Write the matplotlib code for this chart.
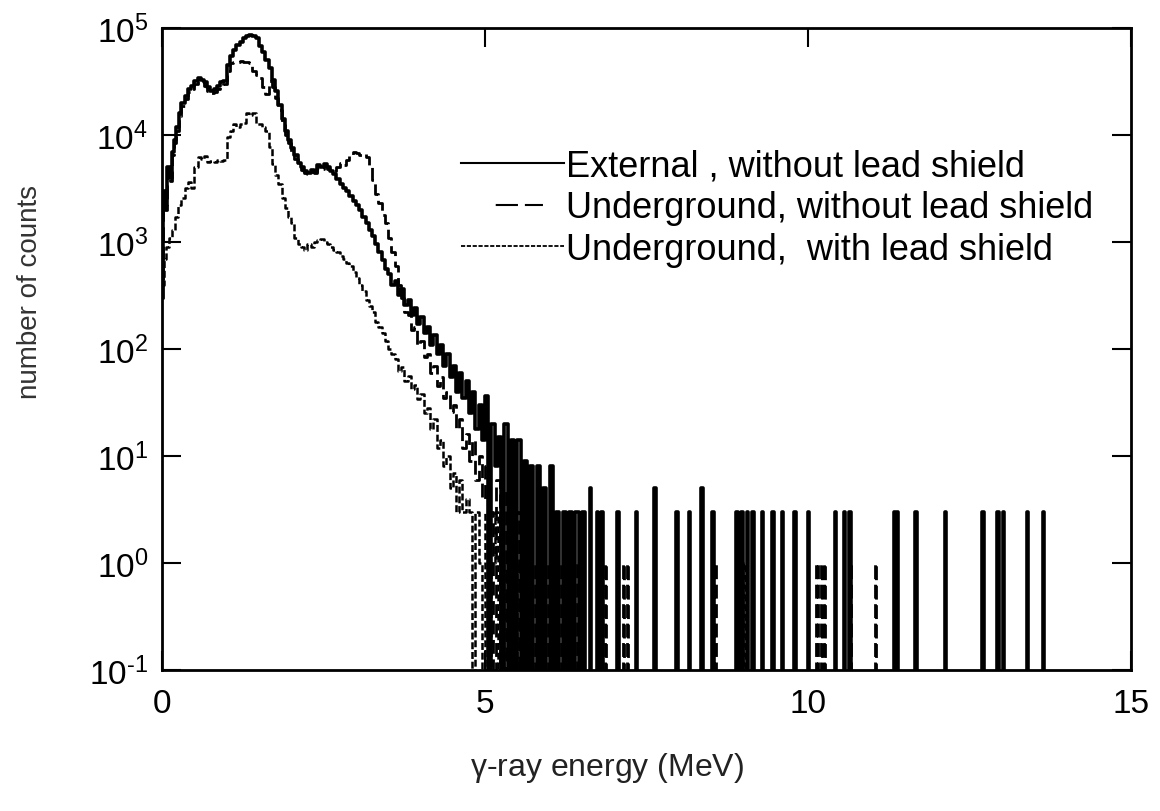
import numpy as np
import matplotlib
matplotlib.use("Agg")
import matplotlib.pyplot as plt
from matplotlib.ticker import FuncFormatter

plt.rcParams['font.family'] = ['Liberation Sans', 'DejaVu Sans']
plt.rcParams['mathtext.fontset'] = 'custom'
plt.rcParams['mathtext.rm'] = 'Liberation Sans'
plt.rcParams['mathtext.it'] = 'Liberation Sans'
plt.rcParams['axes.unicode_minus'] = False
plt.rcParams['lines.scale_dashes'] = False
plt.rcParams['path.simplify'] = False

# ---- data (energy in MeV, counts per bin) ----
ext_E = [0.00, 0.02, 0.05, 0.08, 0.12, 0.15, 0.18, 0.22, 0.26, 0.30, 0.35, 0.40, 0.45, 0.50,
         0.55, 0.60, 0.65, 0.70, 0.75, 0.80, 0.85, 0.90, 0.95, 1.00, 1.05, 1.10, 1.15, 1.20,
         1.25, 1.30, 1.35, 1.40, 1.45, 1.50, 1.55, 1.60, 1.65, 1.70, 1.75, 1.80, 1.85, 1.90,
         1.95, 2.00, 2.05, 2.10, 2.15, 2.20, 2.25, 2.30, 2.35, 2.40, 2.45, 2.50, 2.55, 2.60,
         2.65, 2.70, 2.75, 2.80, 2.85, 2.90, 2.95, 3.00, 3.05, 3.10, 3.15, 3.20, 3.25, 3.30,
         3.35, 3.40, 3.45, 3.50, 3.55, 3.60, 3.65, 3.70, 3.75, 3.80, 3.85, 3.90, 3.95, 4.00,
         4.05, 4.10, 4.15, 4.20, 4.25, 4.30, 4.35, 4.40, 4.45, 4.50, 4.55, 4.60, 4.65, 4.70,
         4.75, 4.80, 4.85, 4.90, 4.95, 5.00, 5.05, 5.10, 5.15, 5.20, 5.25, 5.30, 5.35, 5.40,
         5.45, 5.50, 5.55, 5.60, 5.65, 5.70, 5.75, 5.80, 5.85, 5.90, 5.95, 6.00, 6.05, 6.10,
         6.15, 6.20, 6.25, 6.30, 6.35, 6.40, 6.45, 6.50, 6.55]
ext_N = [400, 3000, 2200, 5000, 4000, 7000, 9000, 12000, 16000, 20000, 23000, 27000, 29000, 32000,
         34000, 33000, 31000, 28000, 26000, 27000, 29000, 31000, 32000, 45000, 55000, 62000, 70000, 74000,
         80000, 85000, 86000, 85000, 80000, 68000, 60000, 50000, 42000, 33000, 26000, 19000, 14000, 11000,
         9000, 7500, 6500, 5500, 5000, 4600, 4400, 4700, 4500, 5200, 5000, 5400, 5000, 4600,
         4300, 3900, 3500, 3200, 3000, 2700, 2400, 2200, 2000, 1700, 1500, 1300, 1150, 950,
         800, 680, 560, 500, 400, 430, 320, 360, 260, 290, 210, 240, 170, 200,
         140, 160, 110, 135, 90, 110, 70, 90, 55, 70, 40, 60, 35, 50,
         25, 40, 18, 30, 14, 36, 0, 20, 8, 15, 0, 20, 0, 14,
         0, 14, 0, 9, 0, 8, 0, 8, 0, 5, 0, 8, 0, 3,
         0, 3, 0, 3, 0, 3, 0, 3, 0]
ext_tail_E = [6.62, 6.73, 6.80, 7.05, 7.33, 7.62, 7.96, 8.15, 8.35, 8.52, 8.89, 8.97, 9.05,
              9.14, 9.28, 9.45, 9.60, 9.79, 10.00, 10.42, 10.56, 10.64, 11.33, 11.38, 11.66,
              12.12, 12.70, 12.93, 13.02, 13.39, 13.64]
ext_tail_N = [5, 3, 3, 3, 3, 5, 3, 3, 5, 3, 3, 3, 3,
              3, 3, 3, 3, 3, 3, 3, 3, 3, 3, 3, 3,
              3, 3, 3, 3, 3, 3]

ug_E = [0.00, 0.02, 0.05, 0.08, 0.12, 0.15, 0.18, 0.22, 0.26, 0.30, 0.35, 0.40, 0.45, 0.50,
        0.55, 0.60, 0.65, 0.70, 0.75, 0.80, 0.85, 0.90, 0.95, 1.00, 1.05, 1.10, 1.15, 1.20,
        1.25, 1.30, 1.35, 1.40, 1.45, 1.50, 1.55, 1.60, 1.65, 1.70, 1.75, 1.80, 1.85, 1.90,
        1.95, 2.00, 2.05, 2.10, 2.15, 2.20, 2.25, 2.30, 2.35, 2.40, 2.45, 2.50, 2.55, 2.60,
        2.65, 2.70, 2.75, 2.80, 2.85, 2.90, 2.95, 3.00, 3.05, 3.10, 3.15, 3.20, 3.25, 3.30,
        3.35, 3.40, 3.45, 3.50, 3.55, 3.60, 3.65, 3.70, 3.75, 3.80, 3.85, 3.90, 3.95, 4.00,
        4.05, 4.10, 4.15, 4.20, 4.25, 4.30, 4.35, 4.40, 4.45, 4.50, 4.55, 4.60, 4.65, 4.70,
        4.75, 4.80, 4.85, 4.90, 4.95, 5.00, 5.075, 5.125, 5.175, 5.225, 5.275, 5.325, 5.375, 5.425,
        5.475, 5.525, 5.575, 5.625, 5.675, 5.725, 5.775, 5.825, 5.875, 5.925, 5.975, 6.025, 6.075, 6.125,
        6.175, 6.225, 6.275, 6.325, 6.375, 6.425]
ug_N = [300, 2800, 2000, 4600, 3700, 6500, 8400, 11000, 15000, 18500, 21500, 25000, 27000, 30000,
        32000, 31000, 29000, 26000, 24500, 25000, 27000, 29000, 30000, 40000, 47000, 48000, 48000, 49000,
        48000, 48000, 47000, 40000, 36000, 34000, 28000, 24000, 32000, 28000, 22000, 17000, 13000, 10000,
        8500, 7000, 6000, 5200, 4700, 4400, 4300, 4500, 4400, 4900, 4800, 5100, 4800, 4600,
        4600, 5000, 5500, 5200, 5800, 6500, 7000, 6800, 6500, 6600, 6200, 5000, 3800, 2800,
        2300, 1800, 1500, 1100, 800, 600, 400, 300, 220, 210, 150, 160, 110, 120,
        85, 90, 60, 70, 45, 55, 35, 40, 26, 30, 18, 22, 12, 16,
        9, 14, 6, 10, 4, 8, 3, 0, 6, 0, 5, 0, 4, 0,
        3, 0, 3, 0, 3, 0, 1, 0, 3, 0, 1, 0, 3, 0,
        1, 0, 1, 0, 1, 0]
ug_tail_E = [6.85, 7.13, 7.20, 8.55, 10.13, 10.20, 10.25, 10.64, 11.04]
ug_tail_N = [1, 1, 1, 1, 1, 1, 1, 1, 1]

pb_E = [0.00, 0.03, 0.06, 0.10, 0.15, 0.20, 0.25, 0.30, 0.35, 0.40, 0.45, 0.50, 0.55, 0.60,
        0.65, 0.70, 0.75, 0.80, 0.85, 0.90, 0.95, 1.00, 1.05, 1.10, 1.15, 1.20, 1.25, 1.30,
        1.35, 1.40, 1.45, 1.50, 1.55, 1.60, 1.65, 1.70, 1.75, 1.80, 1.85, 1.90, 1.95, 2.00,
        2.05, 2.10, 2.15, 2.20, 2.25, 2.30, 2.35, 2.40, 2.45, 2.50, 2.55, 2.60, 2.65, 2.70,
        2.75, 2.80, 2.85, 2.90, 2.95, 3.00, 3.05, 3.10, 3.15, 3.20, 3.25, 3.30, 3.35, 3.40,
        3.45, 3.50, 3.55, 3.60, 3.65, 3.70, 3.75, 3.80, 3.85, 3.90, 3.95, 4.00, 4.05, 4.10,
        4.15, 4.20, 4.25, 4.30, 4.35, 4.40, 4.45, 4.50, 4.55, 4.60, 4.65, 4.70, 4.75, 4.80,
        4.85, 4.90, 4.95, 5.00, 5.05, 5.10, 5.15, 5.20, 5.25, 5.30, 5.35, 5.40, 5.45, 5.50,
        5.55, 5.60]
pb_N = [400, 700, 900, 1100, 1300, 1700, 2200, 2600, 3200, 3600, 3200, 5000, 6200, 6000,
        6300, 5600, 5700, 5600, 5800, 5700, 5800, 9600, 11000, 12600, 12000, 12800, 13000, 16000,
        15500, 16000, 12600, 12600, 12000, 11000, 7800, 5400, 4200, 3500, 2600, 2100, 1700, 1500,
        1100, 950, 900, 850, 950, 900, 1000, 1050, 1070, 1000, 950, 900, 850, 800,
        740, 690, 640, 600, 520, 460, 400, 350, 290, 250, 220, 180, 160, 140,
        120, 100, 90, 80, 62, 68, 50, 56, 42, 46, 34, 38, 25, 28,
        18, 22, 12, 14, 8, 10, 5, 7, 3, 6, 3, 4, 3, 0,
        3, 1, 0, 3, 0, 1, 3, 0, 1, 0, 3, 0, 1, 0,
        1, 0]
pb_tail_E = [6.30, 8.95, 9.00]
pb_tail_N = [1, 1, 1]


def spectrum(E, N, tail_E, tail_N, width=0.02):
    x = list(E) + [E[-1] + 0.05]
    y = list(N) + [0]
    for e, c in zip(tail_E, tail_N):
        x += [e, e + width]
        y += [c, 0]
    x.append(15.0)
    y.append(0)
    return np.array(x), np.array(y, dtype=float)


def decade_label(v, pos):
    p = str(int(round(np.log10(v)))).replace('-', '\u2010')
    return r'$\mathdefault{10^{' + p + '}}$'


fig = plt.figure(figsize=(11.6, 8.12), dpi=100)
ax = fig.add_axes([0.1397, 0.1736, 0.8353, 0.7907])
ax.set_yscale('log', nonpositive='clip')

x1, y1 = spectrum(ext_E, ext_N, ext_tail_E, ext_tail_N)
x2, y2 = spectrum(ug_E, ug_N, ug_tail_E, ug_tail_N)
x3, y3 = spectrum(pb_E, pb_N, pb_tail_E, pb_tail_N)

ax.step(x1, y1, where='post', color='black', lw=2.6, ls='-',
        label='External , without lead shield')
ax.step(x2, y2, where='post', color='black', lw=2.0, ls=(0, (10, 4)),
        label='Underground, without lead shield')
ax.step(x3, y3, where='post', color='black', lw=1.8, ls=(0, (5, 2)),
        label='Underground,  with lead shield')

ax.set_xlim(0, 15)
ax.set_ylim(0.1, 1e5)
ax.set_xticks([0, 5, 10, 15])
ax.set_yticks([1e-1, 1, 10, 100, 1e3, 1e4, 1e5])
ax.yaxis.set_major_formatter(FuncFormatter(decade_label))
ax.minorticks_off()
ax.tick_params(axis='both', which='major', direction='in', length=14, width=1.5,
               top=True, right=True, labelsize=24, pad=10)
ax.tick_params(axis='x', pad=13)
for s in ax.spines.values():
    s.set_linewidth(2)

ax.set_xlabel(r'$\gamma$-ray energy (MeV)', fontsize=23, color='#222222')
ax.xaxis.set_label_coords(0.459, -0.125)
ax.set_ylabel('number of counts', fontsize=20, color='#333333', va='center')
ax.yaxis.set_label_coords(-0.136, 0.59)

leg = ax.legend(loc='upper left', bbox_to_anchor=(0.309, 0.812), frameon=False,
                fontsize=26, handlelength=2.85, handletextpad=0.05, labelspacing=0.18,
                borderaxespad=0, borderpad=0)
hs = leg.get_lines()
hs[0].set_linewidth(1.5)
hs[1].set_linewidth(1.5)
hs[1].set_linestyle((0, (0, 25, 16, 5, 13, 40)))
hs[2].set_linewidth(1.3)
hs[2].set_linestyle((0, (3, 1.2)))

fig.savefig('out.png', dpi=100)
